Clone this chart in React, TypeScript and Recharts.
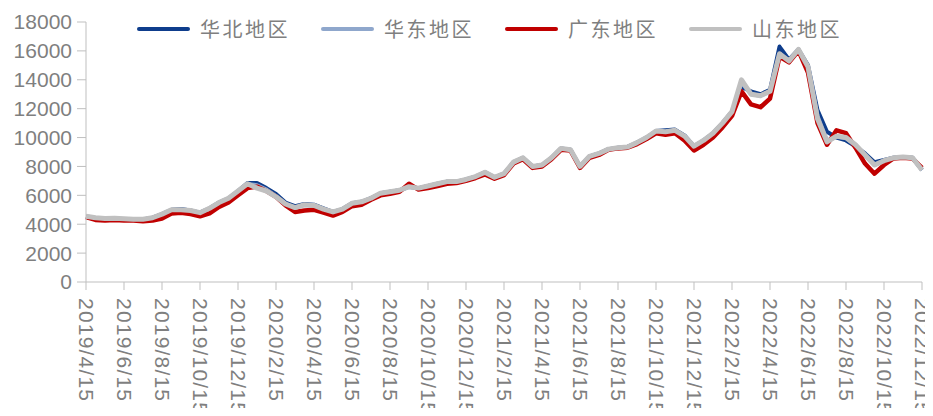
import React from "react";
import { LineChart, Line, XAxis, YAxis } from "recharts";

// semi-monthly sampling, 2019/4/15 .. 2022/12/15
const dates: string[] = [
  "2019/4/15", "2019/5/1", "2019/5/15", "2019/6/1", "2019/6/15", "2019/7/1", "2019/7/15", "2019/8/1", "2019/8/15",
  "2019/9/1", "2019/9/15", "2019/10/1", "2019/10/15", "2019/11/1", "2019/11/15", "2019/12/1", "2019/12/15",
  "2020/1/1", "2020/1/15", "2020/2/1", "2020/2/15", "2020/3/1", "2020/3/15", "2020/4/1", "2020/4/15",
  "2020/5/1", "2020/5/15", "2020/6/1", "2020/6/15", "2020/7/1", "2020/7/15", "2020/8/1", "2020/8/15",
  "2020/9/1", "2020/9/15", "2020/10/1", "2020/10/15", "2020/11/1", "2020/11/15", "2020/12/1", "2020/12/15",
  "2021/1/1", "2021/1/15", "2021/2/1", "2021/2/15", "2021/3/1", "2021/3/15", "2021/4/1", "2021/4/15",
  "2021/5/1", "2021/5/15", "2021/6/1", "2021/6/15", "2021/7/1", "2021/7/15", "2021/8/1", "2021/8/15",
  "2021/9/1", "2021/9/15", "2021/10/1", "2021/10/15", "2021/11/1", "2021/11/15", "2021/12/1", "2021/12/15",
  "2022/1/1", "2022/1/15", "2022/2/1", "2022/2/15", "2022/3/1", "2022/3/15", "2022/4/1", "2022/4/15",
  "2022/5/1", "2022/5/15", "2022/6/1", "2022/6/15", "2022/7/1", "2022/7/15", "2022/8/1", "2022/8/15",
  "2022/9/1", "2022/9/15", "2022/10/1", "2022/10/15", "2022/11/1", "2022/11/15", "2022/12/1", "2022/12/15",
];

const huabei: number[] = [
  4500, 4400, 4380, 4400, 4350, 4350, 4330, 4450, 4700, 5000, 5050, 4950, 4800, 5100, 5500, 5800, 6300,
  6850, 6850, 6500, 6100, 5500, 5250, 5400, 5350, 5100, 4850, 5050, 5450, 5550, 5800, 6150, 6250, 6350, 6600, 6500, 6650, 6800, 6950, 6950, 7100,
  7300, 7600, 7250, 7500, 8300, 8600, 8000, 8100, 8600, 9250, 9150, 8000, 8700, 8900, 9200, 9300, 9350, 9650, 10000, 10450, 10500, 10550, 10150, 9400,
  9800, 10300, 11000, 11800, 13500, 13200, 13000, 13300, 16300, 15400, 16100, 15000, 11900, 10400, 10000, 9800, 9400, 8900, 8300, 8450, 8600, 8650, 8600, 7750,
];

const huadong: number[] = [
  4550, 4430, 4400, 4400, 4370, 4340, 4340, 4440, 4680, 4980, 5000, 4930, 4800, 5080, 5480, 5780, 6280,
  6780, 6700, 6400, 5950, 5400, 5150, 5330, 5300, 5050, 4830, 5030, 5430, 5530, 5780, 6130, 6230, 6330, 6580, 6480, 6630, 6780, 6930, 6930, 7080,
  7280, 7580, 7230, 7480, 8280, 8580, 7980, 8080, 8580, 9230, 9130, 7980, 8680, 8880, 9180, 9280, 9330, 9630, 9980, 10430, 10380, 10480, 10080, 9380,
  9780, 10280, 10980, 11780, 13800, 13000, 12900, 13200, 15700, 15300, 16050, 14900, 11500, 9800, 10050, 9950, 9450, 8750, 8100, 8400, 8600, 8650, 8580, 7750,
];

const guangdong: number[] = [
  4500, 4300, 4250, 4300, 4250, 4250, 4200, 4250, 4400, 4750, 4800, 4700, 4550, 4750, 5200, 5500, 6000,
  6500, 6600, 6300, 5900, 5300, 4850, 4950, 5000, 4800, 4600, 4850, 5250, 5350, 5700, 6000, 6100, 6250, 6800, 6400, 6500, 6650, 6800, 6850, 7000,
  7200, 7450, 7150, 7400, 8200, 8500, 7900, 8000, 8500, 9150, 9100, 7900, 8600, 8800, 9150, 9250, 9300, 9550, 9900, 10300, 10200, 10300, 9800, 9100,
  9500, 10000, 10700, 11500, 13200, 12300, 12100, 12700, 15600, 15200, 16000, 14500, 11000, 9500, 10500, 10300, 9300, 8200, 7500, 8100, 8550, 8600, 8550, 7900,
];

const shandong: number[] = [
  4550, 4450, 4400, 4420, 4380, 4350, 4350, 4450, 4700, 5000, 5000, 4950, 4800, 5100, 5500, 5800, 6300,
  6800, 6500, 6300, 5900, 5400, 5150, 5350, 5300, 5050, 4850, 5050, 5450, 5550, 5800, 6150, 6250, 6350, 6600, 6500, 6650, 6800, 6950, 6950, 7100,
  7300, 7600, 7250, 7500, 8300, 8600, 8000, 8100, 8600, 9250, 9150, 8000, 8700, 8900, 9200, 9300, 9350, 9650, 10000, 10450, 10400, 10500, 10100, 9400,
  9800, 10300, 11000, 11800, 14000, 13000, 12900, 13200, 15800, 15300, 16100, 14900, 11300, 9700, 10100, 10000, 9500, 8800, 8100, 8400, 8600, 8650, 8600, 7750,
];

const yTicks = [0, 2000, 4000, 6000, 8000, 10000, 12000, 14000, 16000, 18000];

const series = [
  { key: "huabei", name: "华北地区", color: "#0E3D8C", width: 4 },
  { key: "huadong", name: "华东地区", color: "#8FA7CC", width: 4 },
  { key: "guangdong", name: "广东地区", color: "#C00000", width: 4.5 },
  { key: "shandong", name: "山东地区", color: "#C0C0C0", width: 5 },
];

const data = dates.map((date, i) => ({
  date,
  huabei: huabei[i],
  huadong: huadong[i],
  guangdong: guangdong[i],
  shandong: shandong[i],
}));

const tickColor = "#7f7f7f";
const axisColor = "#bfbfbf";
const numFont = "'Liberation Sans', Arial, sans-serif";

function DateTick(props: any) {
  const { x, y, payload } = props;
  return (
    <text
      x={x}
      y={y}
      transform={`rotate(90, ${x}, ${y})`}
      textAnchor="start"
      dominantBaseline="central"
      fill={tickColor}
      fontSize={21}
      letterSpacing={1.2}
      fontFamily={numFont}
    >
      {payload.value}
    </text>
  );
}

export default function App() {
  return (
    <div style={{ position: "relative", width: 933, height: 416, margin: -8, background: "#fff" }}>
      <LineChart
        width={933}
        height={416}
        data={data}
        margin={{ top: 22, right: 11, left: 0, bottom: 0 }}
      >
        <XAxis
          dataKey="date"
          interval={3}
          height={134}
          tickSize={8}
          tickMargin={8}
          stroke={axisColor}
          tick={<DateTick />}
        />
        <YAxis
          domain={[0, 18000]}
          ticks={yTicks}
          interval={0}
          width={86}
          tickSize={9}
          tickMargin={5}
          stroke={axisColor}
          tick={{ fill: tickColor, fontSize: 21, fontFamily: numFont }}
        />
        {series.map((s) => (
          <Line
            key={s.key}
            dataKey={s.key}
            name={s.name}
            stroke={s.color}
            strokeWidth={s.width}
            strokeLinejoin="round"
            dot={false}
            type="linear"
            isAnimationActive={false}
          />
        ))}
      </LineChart>
      <div
        style={{
          position: "absolute",
          top: 14,
          left: 137,
          display: "flex",
          fontFamily: "'Noto Sans CJK SC', sans-serif",
          fontSize: 20,
          letterSpacing: 2.5,
          color: "#7f7f7f",
        }}
      >
        {series.map((s) => (
          <div key={s.key} style={{ width: 184, display: "flex", alignItems: "center" }}>
            <div style={{ width: 53, height: 4, background: s.color, borderRadius: 2, marginRight: 10 }} />
            <span>{s.name}</span>
          </div>
        ))}
      </div>
    </div>
  );
}
